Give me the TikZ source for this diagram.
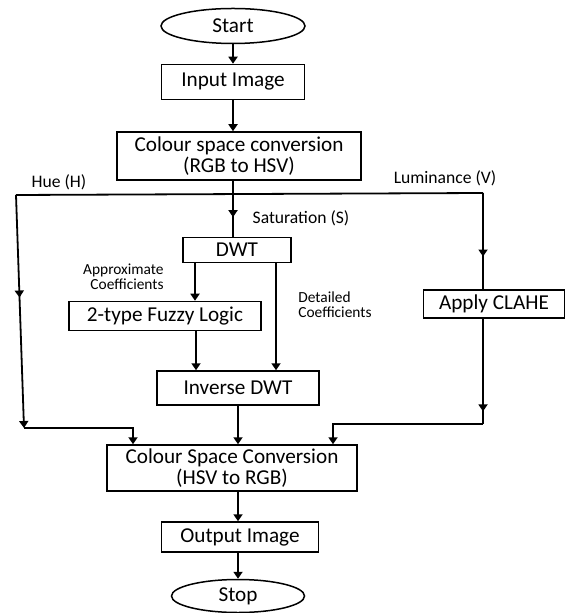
\documentclass[tikz,border=0pt]{standalone}
\usepackage{fontspec}
\setmainfont{Carlito}
\usetikzlibrary{arrows.meta,shapes.geometric,decorations.markings,calc}

\begin{document}
\begin{tikzpicture}[x=0.5pt,y=-0.5pt,
  box/.style={draw,line width=0.75pt,inner sep=0pt,align=center,font=\fontsize{10.6}{10.5}\selectfont},
  term/.style={box,ellipse},
  lab/.style={inner sep=0pt,font=\fontsize{8.8}{8.8}\selectfont},
  coef/.style={inner sep=0pt,font=\fontsize{7.7}{7.5}\selectfont},
  flow/.style={line width=0.9pt,-{Triangle[length=3.5pt,width=4.5pt]}},
  line/.style={line width=0.9pt},
  midarrow/.style={postaction={decorate},decoration={markings,mark=at position #1 with {\arrow{Triangle[length=3.5pt,width=4.5pt]}}}}]
\useasboundingbox (0,0) rectangle (566,613);
% boxes
\node[term,minimum width=72pt,minimum height=17.5pt] (start) at (233,26) {Start};
\node[box,minimum width=71.5pt,minimum height=17.5pt] (input) at (233,82) {Input Image};
\node[box,minimum width=122pt,minimum height=24pt] (rgbhsv) at (239,156) {Colour space conversion\\(RGB to HSV)};
\node[box,minimum width=54pt,minimum height=12.5pt] (dwt) at (237,250) {DWT};
\node[box,minimum width=96pt,minimum height=14.5pt] (fuzzy) at (165,316) {2-type Fuzzy Logic};
\node[box,minimum width=81pt,minimum height=17pt] (idwt) at (238,388) {Inverse DWT};
\node[box,minimum width=70.5pt,minimum height=14pt] (clahe) at (494,304) {Apply CLAHE};
\node[box,minimum width=125pt,minimum height=23pt] (hsvrgb) at (232,468) {Colour Space Conversion\\(HSV to RGB)};
\node[box,minimum width=78.5pt,minimum height=15pt] (output) at (240,537) {Output Image};
\node[term,minimum width=66.5pt,minimum height=16.5pt] (stop) at (238,596) {Stop};
% labels
\node[lab] (hue) at (59,182) {Hue (H)};
\node[lab] (lum) at (445,178) {Luminance (V)};
\node[lab] (sat) at (301,218) {Saturation (S)};
\node[coef,align=right,anchor=east] (approx) at (164,277) {Approximate\\Coefficients};
\node[coef,align=left,anchor=west] (detail) at (298,305) {Detailed\\Coefficients};
% branch points
\coordinate (S) at (233,194);
\coordinate (H1) at (16,195);
\coordinate (H2) at (24,428);
\coordinate (V1) at (483,193);
\coordinate (V2) at (483,424);
% connectors
\draw[flow] (start) -- (input);
\draw[flow] (input) -- (input |- rgbhsv.north);
\draw[line,midarrow=0.65] (rgbhsv.south -| S) -- (dwt.north -| S);
\draw[line] (H1) -- (V1);
\draw[flow,midarrow=0.44] (H1) -- (H2);
\draw[flow] (H2) -| ($(hsvrgb.north)+(-99,0)$);
\draw[line,midarrow=0.66] (V1) -- (clahe.north -| V1);
\draw[line,midarrow=0.88] (clahe.south -| V1) -- (V2);
\draw[flow] (V2) -| ($(hsvrgb.north)+(101,0)$);
\draw[flow] (dwt.south -| 195,0) -- (fuzzy.north -| 195,0);
\draw[flow] (fuzzy.south -| 196,0) -- (idwt.north -| 196,0);
\draw[flow] (dwt.south -| 276,0) -- (idwt.north -| 276,0);
\draw[flow] (idwt) -- (idwt |- hsvrgb.north);
\draw[flow] (hsvrgb.south -| 238,0) -- (output.north -| 238,0);
\draw[flow] (output.south -| stop) -- (stop);
\end{tikzpicture}
\end{document}
